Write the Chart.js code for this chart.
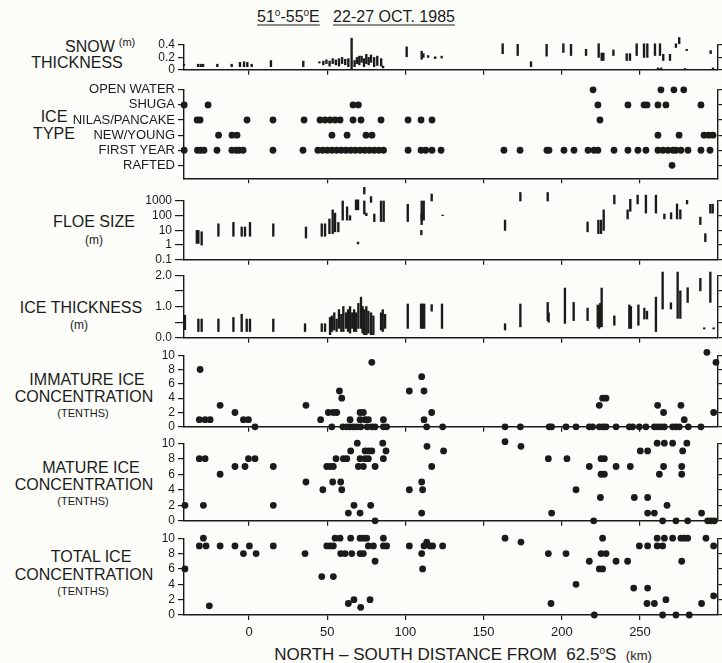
<!DOCTYPE html>
<html>
<head>
<meta charset="utf-8">
<script src="https://cdn.jsdelivr.net/npm/chart.js@4.4.1/dist/chart.umd.min.js"></script>
<style>
  body { margin: 0; background: #fcfcf8; }
  #wrap { position: relative; width: 722px; height: 663px; overflow: hidden;
          font-family: 'Liberation Sans', Arial, sans-serif; color: #1b1b1b; }
  #wrap canvas { position: absolute; left: 0; }
  .lbl { position: absolute; transform: translate(-50%, -50%); white-space: nowrap; font-size: 16px; line-height: 1; }
  .sm { font-size: 11px; }
  .ul { text-decoration: underline; text-underline-offset: 3px; }
  sup { font-size: 10px; vertical-align: 6px; }
</style>
</head>
<body>
<div id="wrap">
  <div class="lbl" style="left:356px;top:16px;font-size:16px">
    <span class="ul">51<sup>o</sup>-55<sup>o</sup>E</span>&nbsp;&nbsp;&nbsp;<span class="ul">22-27 OCT. 1985</span>
  </div>

  <div class="lbl" style="left:90px;top:47px">SNOW</div>
  <div class="lbl" style="left:77px;top:63px">THICKNESS</div>
  <div class="lbl sm" style="left:127px;top:42px">(m)</div>

  <div class="lbl" style="left:54px;top:117px">ICE</div>
  <div class="lbl" style="left:54px;top:134px">TYPE</div>

  <div class="lbl" style="left:94px;top:222px">FLOE SIZE</div>
  <div class="lbl sm" style="left:94px;top:240px;font-size:12px">(m)</div>

  <div class="lbl" style="left:81px;top:308px">ICE THICKNESS</div>
  <div class="lbl sm" style="left:79px;top:325px;font-size:12px">(m)</div>

  <div class="lbl" style="left:87px;top:380px">IMMATURE ICE</div>
  <div class="lbl" style="left:84px;top:397px">CONCENTRATION</div>
  <div class="lbl sm" style="left:83px;top:413px">(TENTHS)</div>

  <div class="lbl" style="left:91px;top:468px">MATURE ICE</div>
  <div class="lbl" style="left:84px;top:485px">CONCENTRATION</div>
  <div class="lbl sm" style="left:83px;top:501px">(TENTHS)</div>

  <div class="lbl" style="left:91px;top:557px">TOTAL ICE</div>
  <div class="lbl" style="left:84px;top:575px">CONCENTRATION</div>
  <div class="lbl sm" style="left:83px;top:591px">(TENTHS)</div>

  <div class="lbl" style="left:463px;top:654px;font-size:17px">NORTH &#8211; SOUTH DISTANCE FROM&nbsp; 62.5<sup>o</sup>S&nbsp; <span style="font-size:13px">(km)</span></div>
</div>

<script>
// distance along the track, km north-south from 62.5S
const xTicks = [0, 50, 100, 150, 200, 250];

// snow thickness ranges [km, low m, high m]
const snowRanges = [
  [-41.6, 0.07, 0.09], [-32.6, 0.05, 0.09], [-30.9, 0.05, 0.09], [-29.4, 0.05, 0.09],
  [-20.3, 0.05, 0.09], [-11.1, 0.05, 0.09], [-5.8, 0.05, 0.12], [-3.2, 0.05, 0.13],
  [-1.1, 0.05, 0.12], [1.7, 0.05, 0.09], [14, 0.05, 0.15], [34.7, 0.05, 0.14], [45, 0.11, 0.13],
  [47.5, 0.08, 0.14], [49.5, 0.1, 0.16], [51.5, 0.06, 0.14], [53.5, 0.1, 0.18], [55.5, 0.08, 0.16],
  [57.5, 0.06, 0.18], [59.5, 0.1, 0.2], [61.5, 0.08, 0.17], [63.5, 0.05, 0.18], [65.6, 0, 0.51],
  [67.5, 0.05, 0.15], [69, 0.1, 0.2], [70.5, 0.08, 0.22], [72, 0.12, 0.22], [73.5, 0.05, 0.18],
  [75, 0.1, 0.25], [76.5, 0.08, 0.2], [78, 0.12, 0.24], [80, 0.05, 0.2], [82, 0.07, 0.22],
  [84.5, 0.06, 0.18], [85.7, 0.03, 0.06], [100.8, 0.21, 0.37], [110.4, 0.17, 0.3], [111.5, 0.2, 0.26],
  [114.5, 0.2, 0.23], [119, 0.18, 0.21], [123.2, 0.19, 0.22], [162.2, 0.26, 0.42], [171.8, 0.23, 0.41],
  [180.3, 0.05, 0.13], [190.3, 0.22, 0.41], [201, 0.28, 0.42], [205.9, 0.23, 0.41], [215.5, 0.23, 0.33],
  [223.6, 0.2, 0.42], [225.5, 0.15, 0.27], [226.6, 0.15, 0.27], [233, 0.23, 0.32], [241.5, 0.15, 0.26],
  [243.6, 0.15, 0.26], [247.9, 0.23, 0.42], [252.6, 0.2, 0.42], [254.7, 0.2, 0.42], [259.6, 0.23, 0.42],
  [262.8, 0.23, 0.42], [264.9, 0.15, 0.25], [269.2, 0.15, 0.25], [273, 0.36, 0.42], [275.1, 0.42, 0.52],
  [279.9, 0.31, 0.33], [295.2, 0.26, 0.31], [261.5, 0, 0.03], [263.5, 0, 0.03], [278.8, 0, 0.02],
  [296.7, 0, 0.03]
];

// ice type observations, km positions per category
const iceTypeLabels = ['RAFTED', 'FIRST YEAR', 'NEW/YOUNG', 'NILAS/PANCAKE', 'SHUGA', 'OPEN WATER'];
const raftedKm = [270.5];
const firstYearKm = [-41.5, -33, -31, -28.8, -20.5, -11, -8.3, -6.4, -3.8, 15.3, 34.5, 44, 47, 50, 53,
  56, 59, 62, 65, 68, 71, 74, 77, 80, 83, 86, 101.7, 110, 113, 117, 122.8, 163, 173.3, 190.5, 191.8,
  201.4, 207.8, 216.8, 220.6, 223.1, 233.4, 242.3, 248.7, 253.8, 261.5, 264.7, 267.9, 271.1, 273,
  276.2, 280.7, 289, 294.8];
const newYoungKm = [-19.5, -10.9, -7.7, 53, 62.7, 74.8, 78.6, 261.5, 275, 291, 294, 296.7];
const nilasKm = [-33.2, -31.3, -1.3, 15.3, 35.2, 45.4, 48.6, 51.8, 55, 58.2, 66.5, 71.6, 84.4, 101.7,
  110, 117, 224.4];
const shugaKm = [-41.5, -26.2, 66.5, 69.9, 223.1, 242.3, 252.6, 254.5, 261.5, 266.6, 289];
const openWaterKm = [220, 263.4, 271.7, 278];

// floe size ranges [km, low m, high m]
const floeRanges = [
  [-33.4, 1.3, 10], [-32.4, 1.3, 10], [-30.3, 1, 8], [-19.6, 4, 28], [-10, 4, 35], [-4.7, 4, 17],
  [-2.6, 4, 17], [0.6, 4, 35], [15.5, 4, 28], [36.4, 3, 17], [46.5, 4, 28], [48.6, 4, 28],
  [51.4, 6, 60], [53.5, 6, 250], [55, 8, 150], [57.1, 8, 35], [59.9, 50, 1000], [62.7, 50, 400],
  [64.6, 50, 100], [68.4, 250, 1200], [69.7, 250, 1200], [69.7, 1.2, 1.6], [73.7, 3000, 12000],
  [73.7, 130, 1000], [75, 100, 150], [78, 800, 2000], [80.1, 40, 130], [84.4, 40, 1000],
  [86.1, 40, 1000], [101.5, 40, 600], [110.4, 50, 1000], [111.7, 50, 1000], [110.4, 25, 130],
  [110.2, 5, 10], [116.8, 1000, 3000], [123.8, 100, 110], [163.7, 10, 50], [173.5, 1000, 3800],
  [191, 1000, 3800], [216.5, 8, 37], [223.4, 6, 50], [225.1, 6, 50], [226.8, 10, 250],
  [233.6, 630, 2500], [242.1, 60, 250], [243.8, 200, 1300], [248.5, 630, 2500], [253.8, 150, 2500],
  [260.2, 150, 2500], [265.6, 60, 130], [269.9, 60, 160], [273.7, 60, 630], [275.8, 60, 250],
  [280.1, 630, 1100], [288.6, 25, 80], [291.8, 1.7, 6], [295, 150, 600], [296.5, 150, 600]
];

// ice thickness ranges [km, low m, high m]
const thickRanges = [
  [-41, 0.26, 0.72], [-32.4, 0.2, 0.6], [-30.3, 0.2, 0.6], [-19.6, 0.2, 0.6], [-10, 0.2, 0.65],
  [-4.7, 0.2, 0.75], [-1.5, 0.2, 0.6], [0.6, 0.2, 0.6], [15.5, 0.2, 0.6], [35.8, 0.2, 0.45],
  [46.5, 0.2, 0.45], [48.6, 0.2, 0.45], [51.8, 0.1, 0.65], [53, 0.2, 0.7], [54.5, 0.25, 0.8],
  [56, 0.2, 0.6], [57.5, 0.3, 0.9], [59, 0.2, 0.75], [60.3, 0.2, 1.0], [62, 0.3, 0.8], [63.3, 0.2, 0.9],
  [64.6, 0.15, 1.0], [66, 0.3, 0.8], [67.2, 0.2, 0.9], [68.4, 0.2, 0.8], [69.9, 0.3, 1.1],
  [71.6, 0.3, 1.3], [72.6, 0.15, 1.0], [73.7, 0.1, 0.9], [75, 0.1, 1.0], [76.3, 0.15, 0.85],
  [78, 0.1, 0.8], [79.5, 0.1, 0.7], [84.4, 0.25, 0.8], [85.5, 0.2, 0.9], [87, 0.3, 0.75],
  [101.5, 0.3, 1.08], [110, 0.3, 1.08], [111, 0.3, 1.08], [112, 0.3, 1.08], [116.8, 0.85, 1.06],
  [123.4, 0.3, 1.08], [163.7, 0.25, 0.45], [173.5, 0.35, 1.08], [191, 0.55, 1.13], [191.6, 0.5, 0.8],
  [202, 0.46, 1.59], [207.6, 0.55, 1.13], [216.5, 0.55, 0.95], [223, 0.35, 1.05], [223.8, 0.3, 1.0],
  [224.6, 0.35, 1.1], [225.5, 0.35, 1.59], [233.6, 0.4, 0.7], [243.2, 0.3, 1.05], [244.2, 0.3, 1.0],
  [249, 0.4, 1.05], [252.8, 0.6, 0.95], [254.5, 0.6, 0.85], [260.2, 0.2, 1.3], [264.5, 0.92, 2.1],
  [269.8, 0.92, 1.12], [274.1, 0.62, 2.1], [275.8, 0.62, 1.5], [280.5, 1.13, 1.6], [288.6, 1.5, 1.9],
  [295, 1.13, 2.1], [291.1, 0.28, 0.32], [297.1, 0.28, 0.32]
];

// concentrations in tenths [km, value]
const immaturePts = [
  [-31.3, 8], [-31.8, 1], [-28.1, 1], [-24.9, 1], [-18.5, 3], [-9, 2], [-3.6, 1], [-0.4, 1], [3.8, 0],
  [36.4, 3], [45.8, 1], [50.7, 2], [53.9, 2], [56.1, 2], [52.9, 0], [57.8, 5], [59.3, 4], [60, 0],
  [62.5, 0], [64.6, 0], [66.8, 0], [69, 0], [64.6, 1], [71, 2], [73.1, 2], [71, 1], [74.2, 1], [76.3, 1],
  [71.5, 0], [75.6, 0], [78.5, 0], [80.6, 0], [78.5, 9], [85.9, 1], [85.9, 0], [88, 0], [102.5, 5],
  [110.4, 7], [111.9, 5], [111.9, 1], [113.6, 0], [116.8, 2], [123.8, 0], [163.7, 0], [173.5, 0],
  [192, 0], [193.5, 0], [202.7, 0], [209.1, 0], [217.6, 0], [219.7, 0], [224, 3], [226.1, 4],
  [228.3, 4], [224, 0], [226.3, 0], [228.3, 0], [234.7, 0], [243.2, 0], [245.3, 0], [249.6, 0],
  [253.8, 0], [259.2, 0], [261.3, 0], [263.4, 0], [265.6, 0], [261.3, 3], [265.1, 2], [270.9, 0],
  [273, 0], [275.1, 0], [276.2, 3], [278.3, 1], [280.9, 0], [289, 0], [292.8, 10.4], [298.6, 9],
  [297.1, 2]
];
const maturePts = [
  [-41, 2], [-31.8, 8], [-28.1, 8], [-29.2, 2], [-18.5, 6], [-9, 7], [-2.6, 7], [-0.4, 8], [3.8, 8],
  [15.5, 7], [15.5, 2], [36.4, 5], [47.2, 4], [49.7, 7], [51.8, 7], [53.9, 7], [53.5, 5], [58.6, 5],
  [59.3, 4], [55.6, 8], [60.3, 8], [62.5, 8], [65, 9], [69.2, 10], [71, 8], [74.2, 8], [76.3, 8],
  [69.9, 7], [73.1, 7], [74.2, 9], [76.3, 9], [78.5, 9], [80.6, 7], [85.5, 10], [87.6, 9], [85.9, 8],
  [63.5, 1], [67.1, 2], [71, 1], [77.8, 2], [80.6, 0], [102.5, 4], [110.4, 5], [111, 4], [110.4, 1],
  [113.8, 9.6], [116.8, 7], [124.4, 9], [163.7, 10.2], [173.9, 9.6], [191.4, 8], [193.5, 1],
  [203.3, 8], [209.1, 4], [217.6, 7], [220.4, 0], [224.7, 3], [225.1, 8], [227.2, 8], [225.1, 6],
  [227.2, 6], [234.7, 7], [243.8, 7], [246.4, 3], [250.2, 9], [254.9, 9], [254.9, 3], [254.9, 1],
  [259.2, 1], [261, 10], [265.6, 10], [262.4, 6], [265.1, 7], [267.3, 2], [264.5, 0], [273, 0],
  [280.5, 0], [270.9, 10], [276.7, 7], [276.7, 6], [277.3, 9], [280, 10], [289.4, 1], [293.3, 0],
  [295.5, 0], [297.6, 0]
];
const totalPts = [
  [-41, 6], [-31.8, 9], [-27.5, 9], [-29.2, 10], [-25.4, 1.2], [-18.5, 9], [-9, 9], [-3.6, 8], [0.2, 9],
  [4.5, 8], [15.5, 9], [35.8, 8], [46.5, 5], [53.9, 5], [49.7, 9], [51.8, 9], [53.9, 9], [55, 10],
  [58.2, 10], [65, 10], [71, 10], [73.1, 10], [75.2, 10], [58.6, 8], [61.4, 8], [65.7, 8], [71, 8],
  [73.1, 8], [76.3, 9], [79.5, 9], [80.6, 7], [85.9, 10], [85.9, 9], [88, 9], [63.5, 1.5], [67.1, 2],
  [71.4, 1], [77.4, 2], [102.5, 9], [110.4, 8], [111, 6], [111.9, 9], [113.6, 9.5], [115.7, 9],
  [117.4, 9], [123.8, 9], [163.7, 10], [173.9, 9.5], [191.4, 8], [193.1, 1.5], [202.7, 8], [209.1, 4],
  [217.6, 7], [220.8, 0], [226.1, 10], [225.1, 8], [228.3, 8], [224, 6], [226.1, 6], [234.7, 7],
  [242.1, 7], [246, 3.5], [249.6, 9], [254.9, 9], [254.9, 3.5], [254.5, 1.5], [259.2, 1.5], [261, 10],
  [265.6, 10], [261, 9], [264.5, 9], [266.6, 2], [264.5, 0], [270.9, 10], [276.2, 10], [278.3, 10],
  [280.5, 10], [276.7, 7], [273, 0], [281.5, 0], [289.4, 1.5], [292.2, 10], [297.1, 9], [297.1, 2.5]
];

const ink = '#1b1b1b';
const fontFamily = "'Liberation Sans', Arial, sans-serif";
const xMin = -41.6, xMax = 299.9;

function fixedTicks(vals) {
  return scale => { scale.ticks = vals.map(v => ({ value: v })); };
}

function leftAxis(type, min, max, vals, fmt, size, tickLen) {
  return {
    type, min, max,
    afterBuildTicks: fixedTicks(vals),
    afterFit: s => { s.width = 184; },
    ticks: { callback: fmt, font: { family: fontFamily, size: size || 12 }, color: ink, padding: 3,
             autoSkip: false, maxRotation: 0 },
    grid: { drawOnChartArea: false, tickLength: tickLen || 6, color: ink, lineWidth: 1.2 },
    border: { color: ink, width: 1.4 }
  };
}

function rightAxis(y) {
  return Object.assign({}, y, {
    position: 'right',
    ticks: { display: false },
    grid: { drawOnChartArea: false, tickLength: 4, color: ink, lineWidth: 1.2 },
    afterFit: s => { s.width = 4; }
  });
}

function bottomAxis(showX, xh) {
  return {
    type: 'linear', min: xMin, max: xMax, offset: false,
    afterBuildTicks: fixedTicks(xTicks),
    afterFit: s => { s.height = xh; },
    ticks: { display: showX, font: { family: fontFamily, size: 13 }, color: ink, padding: 5,
             maxRotation: 0, autoSkip: false },
    grid: { offset: false, drawOnChartArea: false, drawTicks: showX, tickLength: 5, color: ink, lineWidth: 1.2 },
    border: { color: ink, width: 1.4 }
  };
}

function rangeSet(rows) {
  return {
    type: 'bar',
    data: rows.map(([x, lo, hi]) => ({ x: x, y: [lo, hi] })),
    backgroundColor: ink, borderWidth: 0, barThickness: 1.7, clip: false
  };
}

function dotSet(pts) {
  return {
    type: 'scatter',
    data: pts.map(([x, y]) => ({ x: x, y: y })),
    pointRadius: 3.4, backgroundColor: ink, borderWidth: 0, clip: false
  };
}

function panel(top, bottom, padT, padB, datasets, y, showX) {
  const xh = showX ? 28 : 0;
  const h = bottom - top + padT + padB + xh;
  const cv = document.createElement('canvas');
  cv.width = 722; cv.height = h;
  cv.style.top = (top - padT) + 'px';
  cv.style.width = '722px'; cv.style.height = h + 'px';
  document.getElementById('wrap').appendChild(cv);
  new Chart(cv, {
    type: datasets[0].type,
    data: { datasets: datasets },
    options: {
      responsive: false, animation: false, events: [],
      layout: { padding: { top: padT, bottom: padB, left: 0, right: 0 } },
      plugins: { legend: { display: false }, tooltip: { enabled: false } },
      scales: { x: bottomAxis(showX, xh), y: y, y2: rightAxis(y) }
    }
  });
}

const tenths = [0, 2, 4, 6, 8, 10];

panel(45, 76, 16, 4, [rangeSet(snowRanges)],
  leftAxis('linear', 0, 0.4, [0, 0.2, 0.4], v => v === 0 ? '0' : v.toFixed(1)));

const iceTypePts = [].concat(
  raftedKm.map(x => [x, 0]), firstYearKm.map(x => [x, 1]), newYoungKm.map(x => [x, 2]),
  nilasKm.map(x => [x, 3]), shugaKm.map(x => [x, 4]), openWaterKm.map(x => [x, 5]));
panel(89, 185, 10, 4, [dotSet(iceTypePts)],
  leftAxis('linear', -0.85, 5, [0, 1, 2, 3, 4, 5], v => iceTypeLabels[v], 13));

panel(201, 262, 14, 8, [rangeSet(floeRanges)],
  leftAxis('logarithmic', 0.1, 1000, [0.1, 1, 10, 100, 1000], v => String(v), 12, 9));

panel(275, 340, 10, 8, [rangeSet(thickRanges)],
  leftAxis('linear', 0, 2, [0, 0.5, 1, 1.5, 2], v => v % 1 === 0 ? v.toFixed(1) : '', 12, 9));

panel(355, 429, 10, 8, [dotSet(immaturePts)], leftAxis('linear', 0, 10, tenths, v => String(v)));
panel(443, 523, 10, 8, [dotSet(maturePts)], leftAxis('linear', 0, 10, tenths, v => String(v)));
panel(538, 615, 10, 0, [dotSet(totalPts)], leftAxis('linear', 0, 10, tenths, v => String(v)), true);
</script>
</body>
</html>
